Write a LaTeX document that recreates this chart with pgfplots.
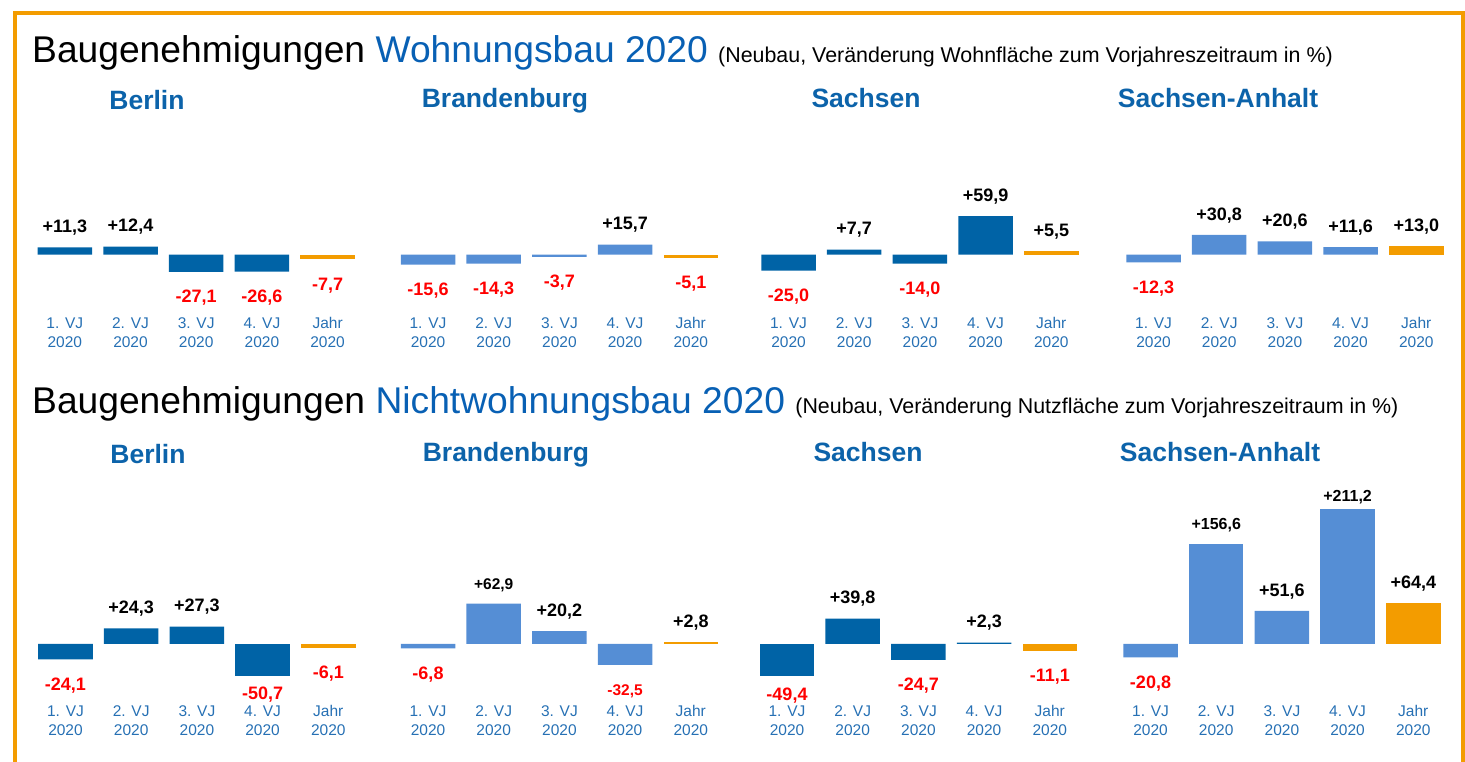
\documentclass[border=0pt]{standalone}
\usepackage{fontspec}
\setmainfont{Liberation Sans}
\usepackage{pgfplots}
\pgfplotsset{compat=1.18}
\definecolor{dblue}{RGB}{0,99,166}
\definecolor{lblue}{RGB}{85,142,213}
\definecolor{jorange}{RGB}{243,156,0}
\definecolor{headblue}{RGB}{8,96,180}
\definecolor{titleblue}{RGB}{12,99,170}
\definecolor{tickblue}{RGB}{38,112,180}
\definecolor{vred}{RGB}{255,0,0}

\newcommand{\fl}{\rule{0pt}{12pt}}
\pgfplotsset{
  panel/.style={
    x=65.7pt, y=0.64pt,
    xmin=-0.5, xmax=4.5,
    ybar, bar width=54.5pt,
    axis line style={draw=none},
    major tick length=0pt,
    ytick=\empty,
    xtick={0,1,2,3,4},
    xticklabels={{\fl 1. VJ\\2020},{\fl 2. VJ\\2020},{\fl 3. VJ\\2020},{\fl 4. VJ\\2020},{\fl Jahr\\2020}},
    xticklabel style={align=center, font=\fontsize{15.5}{19}\selectfont, text=tickblue, inner sep=0pt, anchor=north, yshift=-0.5pt},
    clip=false,
    anchor=south west,
    nodes near coords={\pgfmathfloatifflags{\pgfplotspointmeta}{-}{\color{vred}\rule{0pt}{16pt}}{}\pgfmathprintnumber{\pgfplotspointmeta}},
    every node near coord/.append style={font=\fontsize{18}{18}\selectfont\bfseries, inner xsep=0pt, inner ysep=14.5pt, text depth=0pt},
    /pgf/number format/use comma,
    /pgf/number format/fixed,
    /pgf/number format/fixed zerofill,
    /pgf/number format/precision=1,
    /pgf/number format/showpos,
    /pgf/number format/assume math mode=true,
  },
  toprow/.style={panel, ymin=-96, ymax=160},
  botrow/.style={panel, ymin=-94, ymax=260},
  smalllab/.style={every node near coord/.append style={font=\fontsize{16}{16}\selectfont\bfseries}},
  tinylab/.style={every node near coord/.append style={font=\fontsize{15.5}{15.5}\selectfont\bfseries}},
  labshift/.style={every node near coord/.append style={yshift=#1}},
}

\begin{document}
\begin{tikzpicture}[x=1pt,y=1pt]
\path[use as bounding box] (0,0) rectangle (1465,762);
% frame
\draw[jorange, line width=4pt] (14.7,-5) -- (14.7,748.5) -- (1462.8,748.5) -- (1462.8,-5);

% headings
\node[anchor=base west, inner sep=0pt, font=\fontsize{37.2}{37.2}\selectfont] at (32,699)
  {Baugenehmigungen \textcolor{headblue}{Wohnungsbau 2020} {\fontsize{21.4}{21.4}\selectfont(Neubau, Veränderung Wohnfläche zum Vorjahreszeitraum in \%)}};
\node[anchor=base west, inner sep=0pt, font=\fontsize{37.2}{37.2}\selectfont] at (32,348)
  {Baugenehmigungen \textcolor{headblue}{Nichtwohnungsbau 2020} {\fontsize{21.4}{21.4}\selectfont(Neubau, Veränderung Nutzfläche zum Vorjahreszeitraum in \%)}};

% panel titles
\begin{scope}[every node/.style={anchor=base, inner sep=0pt, text=titleblue, font=\fontsize{26.5}{26.5}\selectfont\bfseries}]
\node at (147,652) {Berlin};
\node at (505,654) {Brandenburg};
\node at (866,654) {Sachsen};
\node at (1218,654) {Sachsen-Anhalt};
\node at (148,298) {Berlin};
\node at (506,300) {Brandenburg};
\node at (868,300) {Sachsen};
\node at (1220,300) {Sachsen-Anhalt};
\end{scope}

% ---------- Wohnungsbau ----------
\begin{axis}[toprow, at={(31.95pt,446pt)}]
\addplot[fill=dblue, draw=none, bar shift=0pt] coordinates {(0,11.3) (1,12.4) (2,-27.1) (3,-26.6)};
\addplot[fill=jorange, draw=none, bar shift=0pt] coordinates {(4,-7.7)};
\end{axis}
\begin{axis}[toprow, at={(395.15pt,446pt)}]
\addplot[fill=lblue, draw=none, bar shift=0pt] coordinates {(0,-15.6) (1,-14.3) (2,-3.7) (3,15.7)};
\addplot[fill=jorange, draw=none, bar shift=0pt] coordinates {(4,-5.1)};
\end{axis}
\begin{axis}[toprow, at={(755.65pt,446pt)}]
\addplot[fill=dblue, draw=none, bar shift=0pt] coordinates {(0,-25.0) (1,7.7) (2,-14.0) (3,59.9)};
\addplot[fill=jorange, draw=none, bar shift=0pt] coordinates {(4,5.5)};
\end{axis}
\begin{axis}[toprow, at={(1120.65pt,446pt)}]
\addplot[fill=lblue, draw=none, bar shift=0pt] coordinates {(0,-12.3) (1,30.8) (2,20.6) (3,11.6)};
\addplot[fill=jorange, draw=none, bar shift=0pt] coordinates {(4,13.0)};
\end{axis}

% ---------- Nichtwohnungsbau ----------
\begin{axis}[botrow, at={(32.65pt,57.84pt)}]
\addplot[fill=dblue, draw=none, bar shift=0pt] coordinates {(0,-24.1) (1,24.3) (2,27.3)};
\addplot[fill=dblue, draw=none, bar shift=0pt, labshift=8pt] coordinates {(3,-50.7)};
\addplot[fill=jorange, draw=none, bar shift=0pt] coordinates {(4,-6.1)};
\end{axis}
\begin{axis}[botrow, at={(395.15pt,57.84pt)}]
\addplot[fill=lblue, draw=none, bar shift=0pt] coordinates {(0,-6.8) (2,20.2)};
\addplot[fill=lblue, draw=none, bar shift=0pt, tinylab] coordinates {(1,62.9) (3,-32.5)};
\addplot[fill=jorange, draw=none, bar shift=0pt] coordinates {(4,2.8)};
\end{axis}
\begin{axis}[botrow, at={(754.15pt,57.84pt)}]
\addplot[fill=dblue, draw=none, bar shift=0pt, labshift=5.5pt] coordinates {(0,-49.4)};
\addplot[fill=dblue, draw=none, bar shift=0pt] coordinates {(1,39.8) (2,-24.7) (3,2.3)};
\addplot[fill=jorange, draw=none, bar shift=0pt] coordinates {(4,-11.1)};
\end{axis}
\begin{axis}[botrow, at={(1117.65pt,57.84pt)}]
\addplot[fill=lblue, draw=none, bar shift=0pt] coordinates {(0,-20.8) (2,51.6)};
\addplot[fill=lblue, draw=none, bar shift=0pt, smalllab] coordinates {(1,156.6)};
\addplot[fill=lblue, draw=none, bar shift=0pt, smalllab, labshift=-7pt] coordinates {(3,211.2)};
\addplot[fill=jorange, draw=none, bar shift=0pt] coordinates {(4,64.4)};
\end{axis}
\end{tikzpicture}
\end{document}
